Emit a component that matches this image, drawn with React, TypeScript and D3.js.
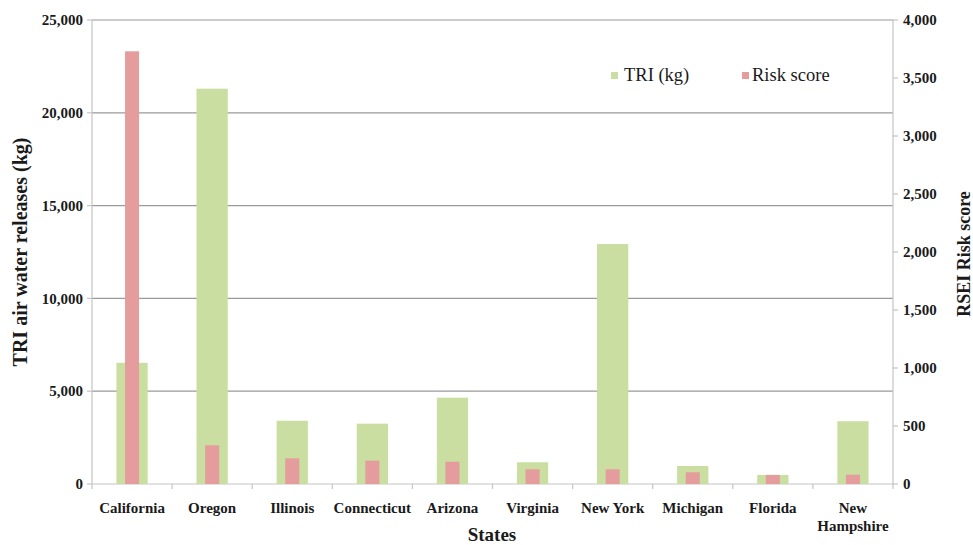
import React from "react";
import * as d3 from "d3";

// States and the two series plotted for each
const states = [
  "California",
  "Oregon",
  "Illinois",
  "Connecticut",
  "Arizona",
  "Virginia",
  "New York",
  "Michigan",
  "Florida",
  "New Hampshire",
];
const triKg = [6530, 21300, 3410, 3250, 4650, 1170, 12930, 970, 490, 3380];
const riskScore = [3730, 334, 221, 201, 192, 127, 127, 101, 78, 80];

const leftTicks = [0, 5000, 10000, 15000, 20000, 25000];
const rightTicks = [0, 500, 1000, 1500, 2000, 2500, 3000, 3500, 4000];

const W = 973;
const H = 545;
const M = { left: 92, right: 80, top: 20, bottom: 61 };

const GREEN = "#c9dea0";
const PINK = "#e49c9c";
const FONT = "'Liberation Serif', 'Times New Roman', serif";
const txt = { fontFamily: FONT } as const;

export default function App() {
  const innerW = W - M.left - M.right;
  const innerH = H - M.top - M.bottom;

  const x = d3.scaleBand<string>().domain(states).range([M.left, M.left + innerW]);
  const yL = d3.scaleLinear().domain([0, 25000]).range([M.top + innerH, M.top]);
  const yR = d3.scaleLinear().domain([0, 4000]).range([M.top + innerH, M.top]);
  const fmt = d3.format(",");

  const bw = x.bandwidth();
  const greenW = bw * 0.39;
  const pinkW = bw * 0.175;
  const y0 = yL(0);
  const xRight = M.left + innerW;

  return (
    <svg
      width={W}
      height={H}
      style={{ position: "absolute", left: 0, top: 0, background: "#fff", fontFamily: FONT }}
    >
      {/* horizontal gridlines */}
      {leftTicks.slice(1).map((t) => (
        <line key={t} x1={M.left} x2={xRight} y1={yL(t)} y2={yL(t)} stroke="#9a9a9a" strokeWidth={1.2} />
      ))}

      {/* axis lines */}
      <line x1={M.left} x2={M.left} y1={M.top} y2={y0} stroke="#c4c4c4" strokeWidth={1.2} />
      <line x1={xRight} x2={xRight} y1={M.top} y2={y0} stroke="#c4c4c4" strokeWidth={1.2} />
      <line x1={M.left} x2={xRight} y1={y0} y2={y0} stroke="#c4c4c4" strokeWidth={1.2} />

      {/* category boundary ticks */}
      {states.map((s) => (
        <line key={s} x1={x(s)!} x2={x(s)!} y1={y0} y2={y0 + 5} stroke="#c4c4c4" strokeWidth={1.2} />
      ))}
      <line x1={xRight} x2={xRight} y1={y0} y2={y0 + 5} stroke="#c4c4c4" strokeWidth={1.2} />

      {/* left ticks and labels */}
      {leftTicks.map((t) => (
        <g key={t}>
          <line x1={M.left - 5} x2={M.left} y1={yL(t)} y2={yL(t)} stroke="#c4c4c4" strokeWidth={1.2} />
          <text
            x={83}
            y={yL(t)}
            dy="0.35em"
            textAnchor="end"
            fontSize={15}
            fontWeight="bold"
            fill="#1a1a1a"
            style={txt}
          >
            {fmt(t)}
          </text>
        </g>
      ))}

      {/* right ticks and labels */}
      {rightTicks.map((t) => (
        <g key={t}>
          <line x1={xRight} x2={xRight + 5} y1={yR(t)} y2={yR(t)} stroke="#c4c4c4" strokeWidth={1.2} />
          <text
            x={903}
            y={yR(t)}
            dy="0.35em"
            textAnchor="start"
            fontSize={15}
            fontWeight="bold"
            fill="#1a1a1a"
            style={txt}
          >
            {fmt(t)}
          </text>
        </g>
      ))}

      {/* bars */}
      {states.map((s, i) => {
        const cx = x(s)! + bw / 2;
        return (
          <g key={s}>
            <rect x={cx - greenW / 2} y={yL(triKg[i])} width={greenW} height={y0 - yL(triKg[i])} fill={GREEN} />
            <rect x={cx - pinkW / 2} y={yR(riskScore[i])} width={pinkW} height={y0 - yR(riskScore[i])} fill={PINK} />
          </g>
        );
      })}

      {/* category labels */}
      {states.map((s) => {
        const cx = x(s)! + bw / 2;
        const parts = s === "New Hampshire" ? ["New", "Hampshire"] : [s];
        return (
          <text key={s} x={cx} y={513} textAnchor="middle" fontSize={15} fontWeight="bold" fill="#1a1a1a" style={txt}>
            {parts.map((p, j) => (
              <tspan key={p} x={cx} dy={j === 0 ? 0 : 18}>
                {p}
              </tspan>
            ))}
          </text>
        );
      })}

      {/* axis titles */}
      <text
        transform={`translate(27, ${(M.top + y0) / 2}) rotate(-90)`}
        textAnchor="middle"
        fontSize={20}
        fontWeight="bold"
        fill="#1a1a1a"
        style={txt}
      >
        TRI air water releases (kg)
      </text>
      <text
        transform={`translate(970, ${(M.top + y0) / 2 + 2}) rotate(-90)`}
        textAnchor="middle"
        fontSize={18}
        fontWeight="bold"
        fill="#1a1a1a"
        style={txt}
      >
        RSEI Risk score
      </text>
      <text x={492} y={541} textAnchor="middle" fontSize={19} fontWeight="bold" fill="#1a1a1a" style={txt}>
        States
      </text>

      {/* legend */}
      <rect x={611} y={72} width={7} height={7} fill={GREEN} />
      <text x={624} y={81} fontSize={18.5} fill="#1a1a1a" style={txt}>
        TRI (kg)
      </text>
      <rect x={742} y={72} width={7} height={7} fill={PINK} />
      <text x={752} y={81} fontSize={18.5} fill="#1a1a1a" style={txt}>
        Risk score
      </text>
    </svg>
  );
}
